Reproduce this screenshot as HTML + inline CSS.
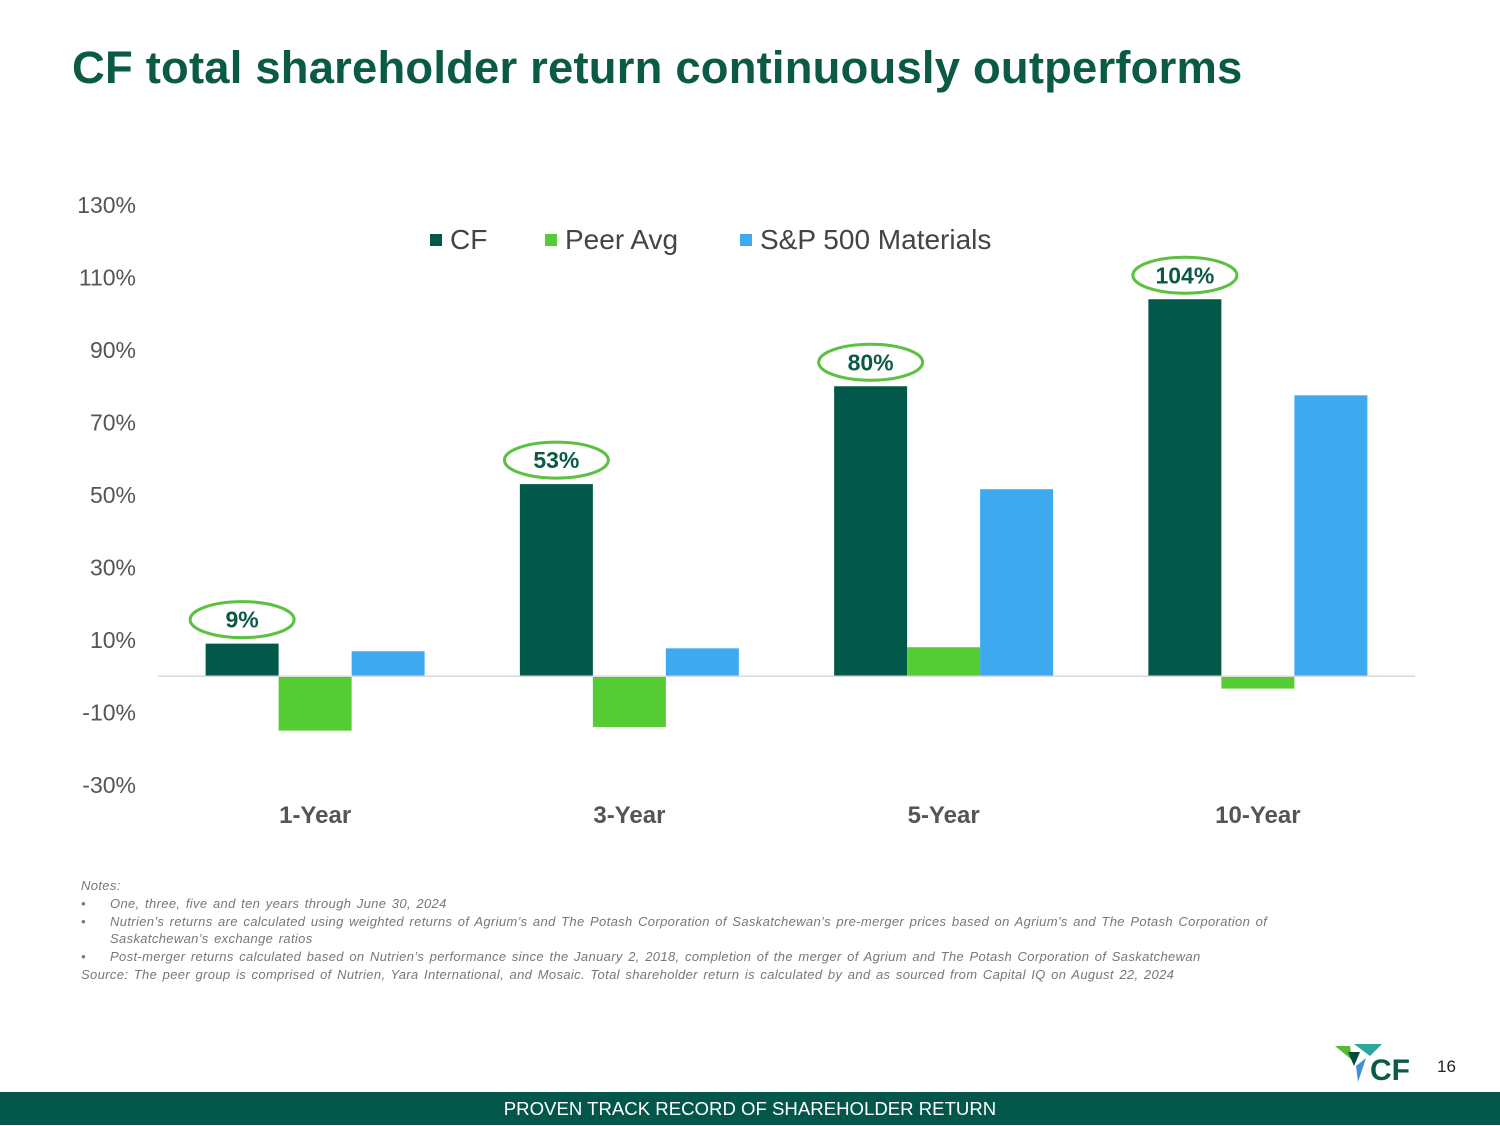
<!DOCTYPE html>
<html><head><meta charset="utf-8"><style>
body{margin:0;width:1500px;height:1125px;background:#fff;overflow:hidden;font-family:"Liberation Sans",sans-serif;position:relative}
.title{position:absolute;left:72px;top:42px;font-size:45.4px;font-weight:bold;color:#0b5a45;letter-spacing:0.2px}
.notes{position:absolute;left:81px;top:877px;font-size:13px;font-style:italic;color:#777;line-height:17.8px;letter-spacing:0.35px;word-spacing:1.5px}
.notes .b{padding-left:29px;position:relative}
.notes .b:before{content:"•";position:absolute;left:0}
.footer{position:absolute;left:0;top:1092px;width:1500px;height:33px;background:#02574a;color:#fff;font-size:18.6px;text-align:center;line-height:34px}
.pg{position:absolute;left:1437px;top:1057px;font-size:17px;color:#222}
</style></head><body>
<div class="title">CF total shareholder return continuously outperforms</div>
<svg id="chart" width="1500" height="870" style="position:absolute;left:0;top:0">
<g id="legend">
<rect x="430" y="234" width="12" height="12" fill="#02594a"/><text x="450" y="249" font-size="28" fill="#444">CF</text>
<rect x="545" y="234" width="12" height="12" fill="#55cc33"/><text x="565" y="249" font-size="28" fill="#444">Peer Avg</text>
<rect x="740" y="234" width="12" height="12" fill="#3fa9f0"/><text x="760" y="249" font-size="28" fill="#444">S&amp;P 500 Materials</text>
</g>
</svg>
<div class="notes">Notes:<br>
<div class="b">One, three, five and ten years through June 30, 2024</div>
<div class="b">Nutrien’s returns are calculated using weighted returns of Agrium’s and The Potash Corporation of Saskatchewan’s pre-merger prices based on Agrium’s and The Potash Corporation of<br>Saskatchewan’s exchange ratios</div>
<div class="b">Post-merger returns calculated based on Nutrien’s performance since the January 2, 2018, completion of the merger of Agrium and The Potash Corporation of Saskatchewan</div>
Source: The peer group is comprised of Nutrien, Yara International, and Mosaic. Total shareholder return is calculated by and as sourced from Capital IQ on August 22, 2024</div>
<svg width="80" height="50" style="position:absolute;left:1330px;top:1040px">
<polygon points="5,6 20,6 22,20" fill="#55bb33"/>
<polygon points="24,4 52,4 40,16" fill="#2aa79a"/>
<polygon points="18,12 30,12 24,26" fill="#024a3e"/>
<polygon points="26,26 36,18 28,42" fill="#3f8fd8"/>
<text x="40" y="40" font-size="30" font-weight="bold" fill="#0b5a45">CF</text>
</svg>
<div class="pg">16</div>
<div class="footer">PROVEN TRACK RECORD OF SHAREHOLDER RETURN</div>
<script>
const categories=["1-Year","3-Year","5-Year","10-Year"];
const cfValues=[9,53,80,104];
const peerValues=[-15,-14,8,-3.4];
const spValues=[6.9,7.7,51.6,77.5];
const yTicks=[130,110,90,70,50,30,10,-10,-30];
const cfLabels=["9%","53%","80%","104%"];
const NS="http://www.w3.org/2000/svg";
const svg=document.getElementById('chart');
const y=v=>676.25-v*3.625;
const x0=158,bw=314.25,bar=73;
const cx=i=>x0+bw*(i+0.5);
function el(t,a){const e=document.createElementNS(NS,t);for(const k in a)e.setAttribute(k,a[k]);svg.appendChild(e);return e;}
yTicks.forEach(t=>{const tx=el('text',{x:136,y:y(t)+8,'text-anchor':'end','font-size':23,fill:'#555'});tx.textContent=t+'%';

});
const series=[[cfValues,'#02594a','cf'],[peerValues,'#55cc33','peer-avg'],[spValues,'#3fa9f0','sp500-materials']];
categories.forEach((c,i)=>{
 series.forEach((s,j)=>{const v=s[0][i];const bx=cx(i)-bar*1.5+bar*j;
  const r=el('rect',{x:bx,y:Math.min(y(v),y(0)),width:bar,height:Math.abs(y(v)-y(0)),fill:s[1]});
  
  });
 const lx=cx(i)-bar;
 const e=el('ellipse',{cx:lx,cy:y(cfValues[i])-24,rx:52,ry:18,fill:'#fff',stroke:'#5cc040','stroke-width':3});
 
 
 const lt=el('text',{x:lx,y:y(cfValues[i])-16,'text-anchor':'middle','font-size':23,'font-weight':'bold',fill:'#0b5a45'});lt.textContent=cfLabels[i];
 
 
 const ct=el('text',{x:cx(i),y:823,'text-anchor':'middle','font-size':24,'font-weight':'bold',fill:'#555'});ct.textContent=c;
 
 
});
const ax=el('line',{x1:158,x2:1415,y1:y(0),y2:y(0),stroke:'#d9d9d9','stroke-width':1.5});


</script>
</body></html>
